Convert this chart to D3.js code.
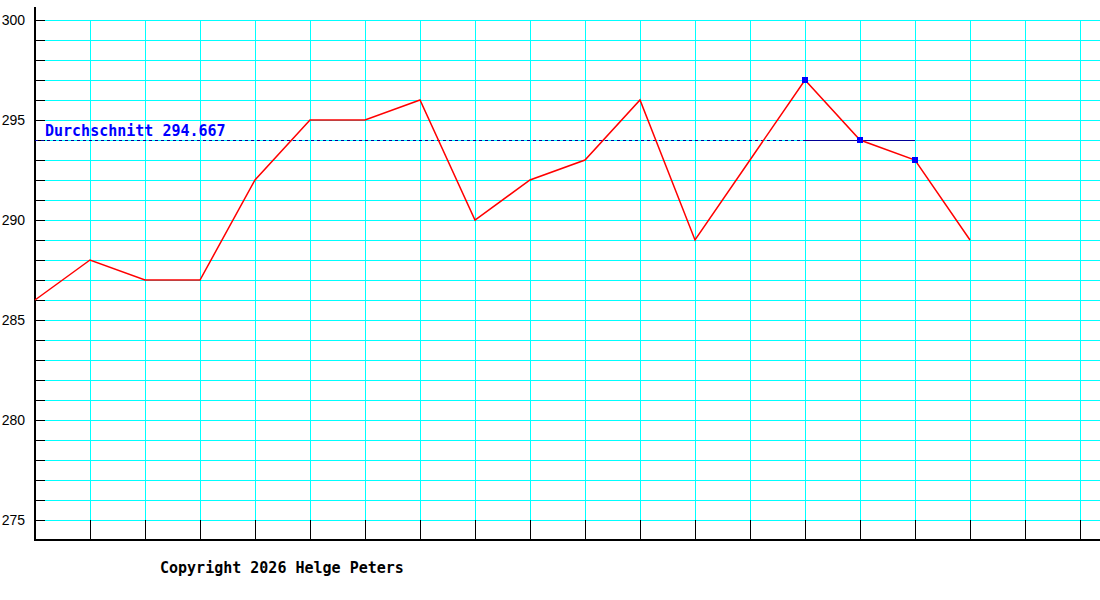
<!DOCTYPE html>
<html>
<head>
<meta charset="utf-8">
<script src="https://cdn.jsdelivr.net/npm/d3@7"></script>
<style>
  body { margin: 0; background: #fff; }
</style>
</head>
<body>
<svg id="chart" width="1100" height="600"></svg>
<script>
// values, one per column
const values = [286, 288, 287, 287, 292, 295, 295, 296, 290, 292, 293, 296, 289, 293, 297, 294, 293, 289];
// the three marked points (used for the average)
const marked = [14, 15, 16];
const yLabels = [275, 280, 285, 290, 295, 300];
const avgLabel = 'Durchschnitt';
const copyright = 'Copyright 2026 Helge Peters';

const svg = d3.select('#chart');

const x = d3.scaleLinear().domain([0, 19]).range([35, 1080]);
const y = d3.scaleLinear().domain([275, 300]).range([520, 20]);

// horizontal grid, one per unit
const units = d3.range(275, 301);
svg.append('g')
  .selectAll('line')
  .data(units)
  .join('line')
    .attr('x1', 45).attr('x2', 1100)
    .attr('y1', d => y(d) + 0.5).attr('y2', d => y(d) + 0.5)
    .attr('stroke', '#00ffff');

// vertical grid
const cols = d3.range(1, 20);
svg.append('g')
  .selectAll('line')
  .data(cols)
  .join('line')
    .attr('x1', d => x(d) + 0.5).attr('x2', d => x(d) + 0.5)
    .attr('y1', y(300)).attr('y2', y(275))
    .attr('stroke', '#00ffff');

// black ticks on the x axis
svg.append('g')
  .selectAll('line')
  .data(cols)
  .join('line')
    .attr('x1', d => x(d) + 0.5).attr('x2', d => x(d) + 0.5)
    .attr('y1', y(275)).attr('y2', 540)
    .attr('stroke', '#000');

// black ticks on the y axis
svg.append('g')
  .selectAll('line')
  .data(units)
  .join('line')
    .attr('x1', 35).attr('x2', 45)
    .attr('y1', d => y(d) + 0.5).attr('y2', d => y(d) + 0.5)
    .attr('stroke', '#000');

// y labels
const yAxis = svg.append('g')
  .attr('transform', 'translate(35,0)')
  .call(d3.axisLeft(y).tickValues(yLabels).tickSize(0).tickPadding(10));
yAxis.select('.domain').remove();
yAxis.selectAll('text')
  .attr('font-family', 'Liberation Sans, Arial, sans-serif')
  .attr('font-size', 14)
  .attr('fill', '#000');

// axis lines
svg.append('line')
  .attr('x1', 35).attr('x2', 35).attr('y1', 7).attr('y2', 541)
  .attr('stroke', '#000').attr('stroke-width', 2);
svg.append('line')
  .attr('x1', 34).attr('x2', 1100).attr('y1', 540).attr('y2', 540)
  .attr('stroke', '#000').attr('stroke-width', 2);

// average of the marked points
const avg = d3.mean(marked, i => values[i]);
const avgY = y(Math.floor(avg)) + 0.5;
svg.append('line')
  .attr('x1', 35).attr('x2', x(marked[0]))
  .attr('y1', avgY).attr('y2', avgY)
  .attr('stroke', '#000099')
  .attr('stroke-dasharray', '3,3');
svg.append('line')
  .attr('x1', x(marked[0])).attr('x2', x(marked[marked.length - 1]))
  .attr('y1', avgY).attr('y2', avgY)
  .attr('stroke', '#000099');

svg.append('text')
  .attr('x', 45).attr('y', 136)
  .attr('font-family', 'DejaVu Sans Mono, monospace')
  .attr('font-size', 15)
  .attr('font-weight', 'bold')
  .attr('fill', '#0000ff')
  .text(avgLabel + ' ' + avg.toFixed(3));

// the data line
const line = d3.line()
  .x((d, i) => x(i))
  .y(d => y(d));
svg.append('path')
  .datum(values)
  .attr('d', line)
  .attr('fill', 'none')
  .attr('stroke', '#ff0000')
  .attr('stroke-width', 1.5);

// markers
svg.append('g')
  .selectAll('rect')
  .data(marked)
  .join('rect')
    .attr('x', i => x(i) - 3)
    .attr('y', i => y(values[i]) - 3)
    .attr('width', 6).attr('height', 6)
    .attr('fill', '#0000ff');

svg.append('text')
  .attr('x', 160).attr('y', 573)
  .attr('font-family', 'DejaVu Sans Mono, monospace')
  .attr('font-size', 15)
  .attr('font-weight', 'bold')
  .attr('fill', '#000')
  .text(copyright);
</script>
</body>
</html>
